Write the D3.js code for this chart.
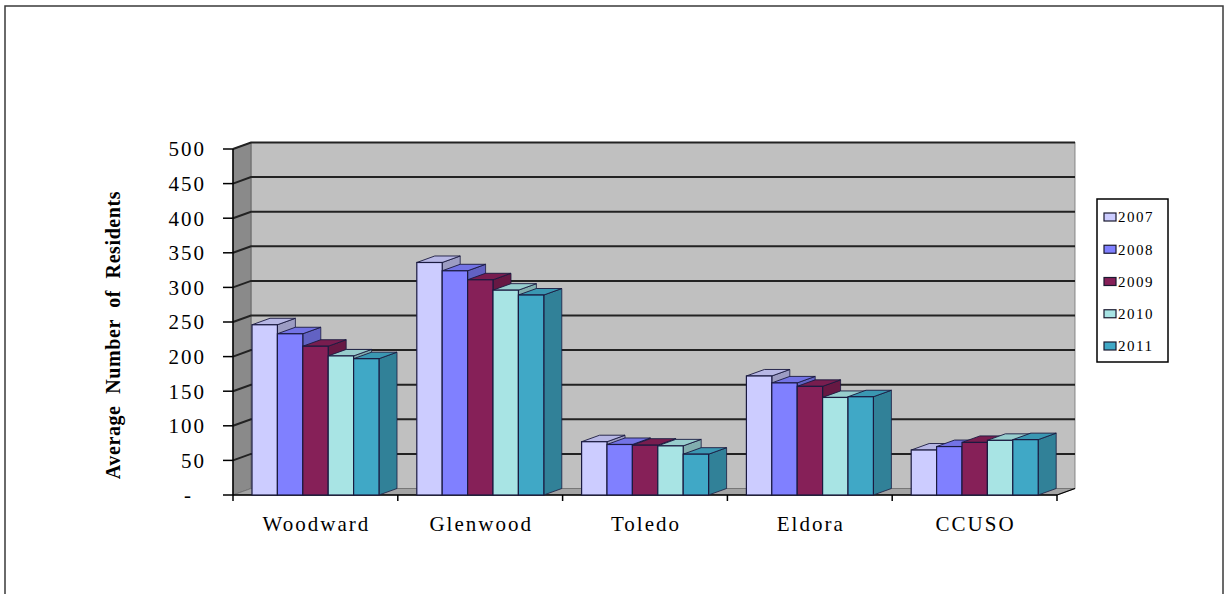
<!DOCTYPE html>
<html>
<head>
<meta charset="utf-8">
<script src="https://cdn.jsdelivr.net/npm/d3@7"></script>
<style>
  html, body { margin: 0; padding: 0; background: #fff; }
  svg { display: block; }
  text { font-family: "Liberation Serif", "Times New Roman", serif; fill: #000; }
</style>
</head>
<body>
<svg id="chart" width="1225" height="594"></svg>
<script>
// ---- data ----
const categories = ["Woodward", "Glenwood", "Toledo", "Eldora", "CCUSO"];
const years = ["2007", "2008", "2009", "2010", "2011"];
const v2007 = [246, 336, 77, 172, 65];
const v2008 = [233, 324, 73, 162, 70];
const v2009 = [215, 311, 72, 157, 76];
const v2010 = [201, 296, 71, 141, 79];
const v2011 = [197, 289, 59, 142, 80];
const yTicks = [0, 50, 100, 150, 200, 250, 300, 350, 400, 450, 500];
const yTickLabels = ["-", "50", "100", "150", "200", "250", "300", "350", "400", "450", "500"];
const seriesColors = ["#ccccff", "#8080ff", "#862058", "#a8e4e4", "#40a8c6"];
const yTitle = "Average Number of Residents";

const seriesValues = [v2007, v2008, v2009, v2010, v2011];

// ---- layout ----
const svg = d3.select("#chart");
const pLeft = 233, pRight = 1057, pBottom = 495, pTop = 149;
const DX = 18, DY = -6.5; // depth offset (oblique projection)

const y = d3.scaleLinear().domain([0, 500]).range([pBottom, pTop]);
const x0 = d3.scaleBand().domain(categories).range([pLeft, pRight]).padding(0);
const x1 = d3.scaleBand().domain(years).range([19, 19 + 127]).padding(0);

// outer frame
svg.append("rect").attr("x", 5).attr("y", 6).attr("width", 1218).attr("height", 620)
  .attr("fill", "none").attr("stroke", "#3a3a3a").attr("stroke-width", 1.5);

// back wall
svg.append("rect")
  .attr("x", pLeft + DX).attr("y", pTop + DY)
  .attr("width", pRight - pLeft).attr("height", pBottom - pTop)
  .attr("fill", "#c0c0c0").attr("stroke", "#707070").attr("stroke-width", 0.8);

// side wall
svg.append("path")
  .attr("d", `M${pLeft},${pTop} L${pLeft + DX},${pTop + DY} L${pLeft + DX},${pBottom + DY} L${pLeft},${pBottom} Z`)
  .attr("fill", "#8a8a8a").attr("stroke", "#606060").attr("stroke-width", 0.8);

// floor
svg.append("path")
  .attr("d", `M${pLeft},${pBottom} L${pLeft + DX},${pBottom + DY} L${pRight + DX},${pBottom + DY} L${pRight},${pBottom} Z`)
  .attr("fill", "#a4a4a4").attr("stroke", "#707070").attr("stroke-width", 0.8);

// gridlines (back wall + slanted on side wall)
const grid = svg.append("g");
yTicks.filter(t => t > 0).forEach(t => {
  grid.append("path")
    .attr("d", `M${pLeft},${y(t)} L${pLeft + DX},${y(t) + DY} L${pRight + DX},${y(t) + DY}`)
    .attr("fill", "none").attr("stroke", "#222").attr("stroke-width", 2);
});

// y axis line & ticks
svg.append("line").attr("x1", pLeft).attr("x2", pLeft).attr("y1", pTop).attr("y2", pBottom)
  .attr("stroke", "#000").attr("stroke-width", 1.5);
const yAxisG = svg.append("g");
yTicks.forEach((t, i) => {
  yAxisG.append("line").attr("x1", pLeft - 10).attr("x2", pLeft).attr("y1", y(t)).attr("y2", y(t))
    .attr("stroke", "#000").attr("stroke-width", 1.5);
  yAxisG.append("text")
    .attr("x", t === 0 ? 193 : 206).attr("y", y(t)).attr("dy", "0.35em")
    .attr("text-anchor", "end")
    .style("font-size", "21px").style("letter-spacing", "2px")
    .text(yTickLabels[i]);
});

// x axis line & ticks
svg.append("line").attr("x1", pLeft).attr("x2", pRight).attr("y1", pBottom).attr("y2", pBottom)
  .attr("stroke", "#000").attr("stroke-width", 1.5);
svg.append("line").attr("x1", pRight).attr("x2", pRight + DX).attr("y1", pBottom).attr("y2", pBottom + DY)
  .attr("stroke", "#000").attr("stroke-width", 1.2);
const bounds = categories.map(c => x0(c)).concat([pRight]);
bounds.forEach(bx => {
  svg.append("line").attr("x1", bx).attr("x2", bx).attr("y1", pBottom).attr("y2", pBottom + 6)
    .attr("stroke", "#000").attr("stroke-width", 1.5);
});
categories.forEach(c => {
  svg.append("text")
    .attr("x", x0(c) + x0.bandwidth() / 2 + 1).attr("y", 531)
    .attr("text-anchor", "middle")
    .style("font-size", "21px").style("letter-spacing", "2px")
    .text(c);
});

// bars (3D)
const barsG = svg.append("g");
categories.forEach((c, ci) => {
  years.forEach((yr, si) => {
    const v = seriesValues[si][ci];
    const col = d3.color(seriesColors[si]);
    const bx = x0(c) + x1(yr), bw = x1.bandwidth();
    const yt = y(v), yb = pBottom;
    const g = barsG.append("g");
    g.append("path")
      .attr("d", `M${bx + bw},${yt} L${bx + bw + DX},${yt + DY} L${bx + bw + DX},${yb + DY} L${bx + bw},${yb} Z`)
      .attr("fill", col.darker(0.75)).attr("stroke", "#1a1a40").attr("stroke-width", 0.8);
    g.append("path")
      .attr("d", `M${bx},${yt} L${bx + DX},${yt + DY} L${bx + bw + DX},${yt + DY} L${bx + bw},${yt} Z`)
      .attr("fill", col.darker(0.3)).attr("stroke", "#1a1a40").attr("stroke-width", 0.9);
    g.append("rect")
      .attr("x", bx).attr("y", yt).attr("width", bw).attr("height", yb - yt)
      .attr("fill", col).attr("stroke", "#1a1a40").attr("stroke-width", 1.2);
  });
});

// y axis title
svg.append("text")
  .attr("transform", "translate(120,335) rotate(-90)")
  .attr("text-anchor", "middle")
  .style("font-size", "20px").style("font-weight", "bold")
  .style("letter-spacing", "0.6px").style("word-spacing", "6px")
  .text(yTitle);

// legend
const lg = svg.append("g");
lg.append("rect").attr("x", 1097).attr("y", 199).attr("width", 71).attr("height", 163)
  .attr("fill", "#fff").attr("stroke", "#000").attr("stroke-width", 1.5);
const ly = d3.scalePoint().domain(years).range([217, 346]);
years.forEach((yr, si) => {
  lg.append("rect").attr("x", 1104).attr("y", ly(yr) - 4).attr("width", 12).attr("height", 8)
    .attr("fill", seriesColors[si]).attr("stroke", "#1a1a30").attr("stroke-width", 1.2);
  lg.append("text").attr("x", 1118).attr("y", ly(yr)).attr("dy", "0.35em")
    .style("font-size", "15px").style("letter-spacing", "1.5px")
    .text(yr);
});
</script>
</body>
</html>
